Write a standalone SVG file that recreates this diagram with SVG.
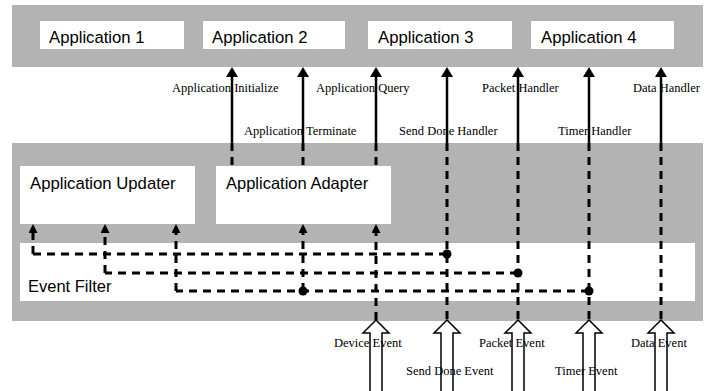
<svg xmlns="http://www.w3.org/2000/svg" width="715" height="391" viewBox="0 0 715 391">
<style>
.band{fill:#b3b3b3}
.box{fill:#fff}
.ttl{font-family:"Liberation Sans",Arial,sans-serif;fill:#000;font-size:16.7px}
.lbl{font-family:"Liberation Serif","Times New Roman",serif;font-size:12.5px;fill:#000}
.solid{stroke:#000;stroke-width:2.5;fill:none}
.dash{stroke:#000;stroke-width:3;fill:none;stroke-dasharray:8 6}
.dot{fill:#000}
.hollow{fill:#fff;stroke:#000;stroke-width:1.5}
</style>
<defs>
<marker id="bigHead" viewBox="0 -6 10 12" refX="0" refY="0" markerWidth="10" markerHeight="12" markerUnits="userSpaceOnUse" orient="auto">
<path d="M0,-6 L10,0 L0,6 Z" fill="#000"/>
</marker>
<marker id="smallHead" viewBox="0 -4.5 9 9" refX="0" refY="0" markerWidth="9" markerHeight="9" markerUnits="userSpaceOnUse" orient="auto">
<path d="M0,-4.5 L9,0 L0,4.5 Z" fill="#000"/>
</marker>
<path id="blockArrow" d="M0,0 L13,13 L6,13 L6,80 L-6,80 L-6,13 L-13,13 Z"/>
</defs>

<g id="applicationLayer">
<rect class="band" x="12" y="5" width="691" height="62"/>
</g>
<g id="systemLayer">
<rect class="band" x="12" y="143" width="691" height="178"/>
</g>

<g id="app1"><rect class="box" x="40" y="21" width="144" height="28"/><text class="ttl" x="49" y="43">Application 1</text></g>
<g id="app2"><rect class="box" x="203" y="21" width="142" height="28"/><text class="ttl" x="212" y="43">Application 2</text></g>
<g id="app3"><rect class="box" x="368" y="21" width="144" height="28"/><text class="ttl" x="378" y="43">Application 3</text></g>
<g id="app4"><rect class="box" x="531" y="21" width="143" height="28"/><text class="ttl" x="541" y="43">Application 4</text></g>

<g id="eventFilter"><rect class="box" x="20" y="243" width="675" height="58"/><text class="ttl" x="28" y="292" style="font-size:16.5px">Event Filter</text></g>

<g id="connectors">
<path class="solid" d="M232,143 V77" marker-end="url(#bigHead)"/>
<path class="solid" d="M303,143 V77" marker-end="url(#bigHead)"/>
<path class="solid" d="M376,143 V77" marker-end="url(#bigHead)"/>
<path class="solid" d="M447,143 V77" marker-end="url(#bigHead)"/>
<path class="solid" d="M518,143 V77" marker-end="url(#bigHead)"/>
<path class="solid" d="M589,143 V77" marker-end="url(#bigHead)"/>
<path class="solid" d="M661,143 V77" marker-end="url(#bigHead)"/>
<path class="dash" d="M232,143 V166"/>
<path class="dash" d="M303,143 V166"/>
<path class="dash" d="M376,143 V166"/>
<path class="dash" d="M447,143 V320"/>
<path class="dash" d="M518,143 V320"/>
<path class="dash" d="M589,143 V320"/>
<path class="dash" d="M661,143 V320"/>
<path class="dash" d="M376,320 V233" marker-end="url(#smallHead)"/>
<path class="dash" d="M447,254 H33"/>
<path class="dash" d="M518,273 H105"/>
<path class="dash" d="M589,291 H176"/>
<path class="dash" d="M33,254 V233" marker-end="url(#smallHead)"/>
<path class="dash" d="M105,273 V233" marker-end="url(#smallHead)"/>
<path class="dash" d="M176,291 V233" marker-end="url(#smallHead)"/>
<path class="dash" d="M303,291 V233" marker-end="url(#smallHead)"/>
<circle class="dot" cx="447" cy="254" r="4.5"/>
<circle class="dot" cx="518" cy="273" r="4.5"/>
<circle class="dot" cx="589" cy="291" r="4.5"/>
<circle class="dot" cx="303" cy="291" r="4.5"/>
<use href="#blockArrow" class="hollow" x="376" y="320"/>
<use href="#blockArrow" class="hollow" x="447" y="320"/>
<use href="#blockArrow" class="hollow" x="518" y="320"/>
<use href="#blockArrow" class="hollow" x="589" y="320"/>
<use href="#blockArrow" class="hollow" x="661" y="320"/>
<text class="lbl" x="172" y="92">Application Initialize</text>
<text class="lbl" x="316" y="92">Application Query</text>
<text class="lbl" x="482" y="92">Packet Handler</text>
<text class="lbl" x="633" y="92">Data Handler</text>
<text class="lbl" x="244" y="135">Application Terminate</text>
<text class="lbl" x="399" y="135">Send Done Handler</text>
<text class="lbl" x="558" y="135">Timer Handler</text>
<text class="lbl" x="334" y="347">Device Event</text>
<text class="lbl" x="479" y="347">Packet Event</text>
<text class="lbl" x="631" y="347">Data Event</text>
<text class="lbl" x="406" y="375">Send Done Event</text>
<text class="lbl" x="555" y="375">Timer Event</text>
</g>

<g id="appUpdater"><rect class="box" x="20" y="166" width="175" height="58"/><text class="ttl" x="30" y="189">Application Updater</text></g>
<g id="appAdapter"><rect class="box" x="216" y="166" width="175" height="58"/><text class="ttl" x="226" y="189" style="font-size:16.5px">Application Adapter</text></g>
</svg>
